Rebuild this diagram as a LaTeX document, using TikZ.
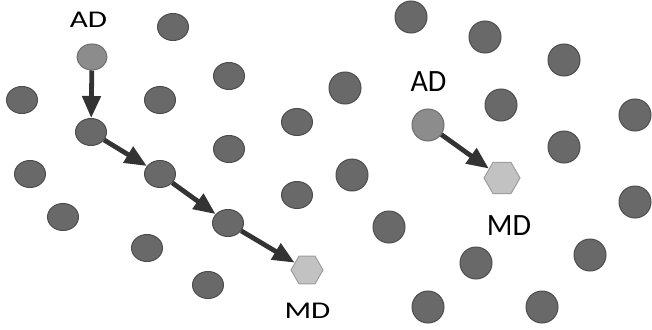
\documentclass[tikz,border=0pt]{standalone}
\usepackage{fontspec}
\usetikzlibrary{arrows.meta, positioning, shapes.geometric}

\newfontfamily\leftfont[FakeStretch=1.3]{Carlito}
\newfontfamily\rightfont[FakeStretch=0.97]{Carlito}

\definecolor{dotfill}{gray}{0.41}
\definecolor{dotedge}{gray}{0.30}
\definecolor{srcfill}{gray}{0.55}
\definecolor{srcedge}{gray}{0.43}
\definecolor{hexfill}{gray}{0.76}
\definecolor{hexedge}{gray}{0.62}
\definecolor{arrowcol}{gray}{0.20}

\begin{document}
\begin{tikzpicture}[
  x=1pt, y=-1pt,
  dotL/.style={ellipse, draw=dotedge, fill=dotfill, line width=1pt, minimum width=31pt, minimum height=27pt, inner sep=0pt},
  dotR/.style={circle, draw=dotedge, fill=dotfill, line width=1pt, minimum size=32pt, inner sep=0pt},
  srcL/.style={dotL, draw=srcedge, fill=srcfill, minimum width=30pt, minimum height=26pt},
  srcR/.style={dotR, draw=srcedge, fill=srcfill},
  goalL/.style={regular polygon, regular polygon sides=6, draw=hexedge, fill=hexfill, line width=1pt, minimum size=32pt, inner sep=0pt},
  goalR/.style={goalL, minimum size=36pt},
  labL/.style={inner sep=0pt, font=\leftfont\fontsize{24}{24}\selectfont, text=black},
  labR/.style={inner sep=0pt, font=\rightfont\fontsize{31}{31}\selectfont, text=black},
  hop/.style={-{Triangle[length=22pt, width=18pt]}, line width=4.8pt, draw=arrowcol}
]
\useasboundingbox (0,0) rectangle (652,329);

% Left field
\node[dotL] (la) at (173,27) {};
\node[dotL] (lb) at (229,76) {};
\node[dotL] (lc) at (22,100) {};
\node[dotL] (ld) at (160,100) {};
\node[dotL] (le) at (297,122) {};
\node[dotL] (lf) at (229,149) {};
\node[dotL] (lg) at (30,174) {};
\node[dotL] (lh) at (297,195) {};
\node[dotL] (li) at (63,217) {};
\node[dotL] (lj) at (147,248) {};
\node[dotL] (lk) at (208,285) {};

% Left route
\node[srcL] (adLeft) at (92,57) {};
\node[dotL] (relayA) at (91,132) {};
\node[dotL] (relayB) at (160,174) {};
\node[dotL] (relayC) at (228,223) {};
\node[goalL] (mdLeft) at (307,270) {};

% Right field
\node[dotR] (ra) at (411,17) {};
\node[dotR] (rb) at (485,37) {};
\node[dotR] (rc) at (564,60) {};
\node[dotR] (rd) at (345,88) {};
\node[dotR] (re) at (501,105) {};
\node[dotR] (rf) at (635,115) {};
\node[dotR] (rg) at (564,147) {};
\node[dotR] (rh) at (352,175) {};
\node[dotR] (ri) at (635,202) {};
\node[dotR] (rj) at (389,227) {};
\node[dotR] (rk) at (590,255) {};
\node[dotR] (rl) at (476,263) {};
\node[dotR] (rm) at (428,307) {};
\node[dotR] (rn) at (542,307) {};

% Right route
\node[srcR] (adRight) at (428,125) {};
\node[goalR] (mdRight) at (502,178) {};

% Arrows
\draw[hop] (adLeft) -- (relayA);
\draw[hop] (relayA) -- (relayB);
\draw[hop] (relayB) -- (relayC);
\draw[hop] (relayC) -- (mdLeft);
\draw[hop] (adRight) -- (mdRight);

% Labels
\node[labL] (adLeftText) at (88.5,20) {AD};
\node[labL] (mdLeftText) at (307.5,310.5) {MD};
\node[labR] (adRightText) at (428.5,82) {AD};
\node[labR] (mdRightText) at (509,225.5) {MD};

\end{tikzpicture}
\end{document}
